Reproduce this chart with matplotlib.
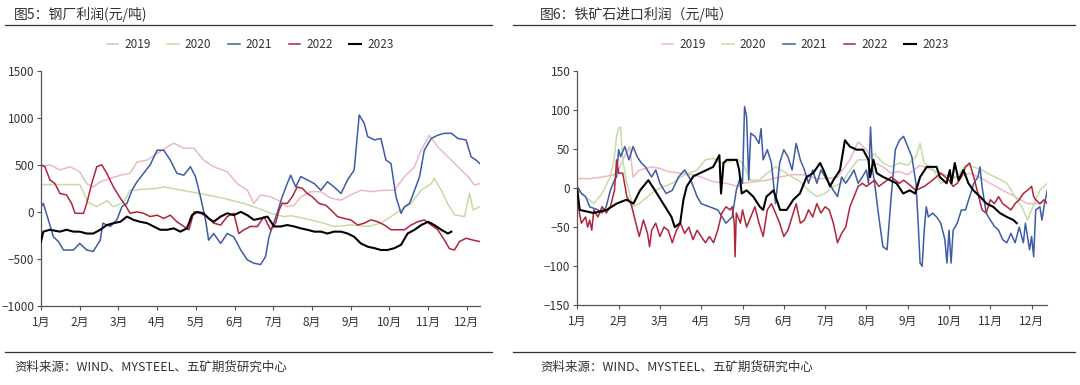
import matplotlib
matplotlib.use("Agg")
import matplotlib.pyplot as plt
from matplotlib.lines import Line2D

plt.rcParams["font.family"] = ["Noto Sans CJK SC", "DejaVu Sans"]

YEARS = ["2019", "2020", "2021", "2022", "2023"]
COLORS = {"2019": "#ebb9c2", "2020": "#c4dca6", "2021": "#3d5ca6",
          "2022": "#b2243a", "2023": "#000000"}
MONTHS = ["1月", "2月", "3月", "4月", "5月", "6月", "7月", "8月", "9月", "10月", "11月", "12月"]

# ── 图5 钢厂利润 (x in months from 1月) ──────────────────────────────────────
steel_x_2019 = [0, .23, .49, .75, 1.0, 1.18, 1.35, 1.53, 1.79, 2.05, 2.3, 2.48, 2.74, 3.0, 3.26,
                3.43, 3.69, 3.95, 4.2, 4.46, 4.81, 5.07, 5.33, 5.5, 5.67, 5.93, 6.19, 6.36, 6.54,
                6.71, 6.97, 7.23, 7.49, 7.75, 8.0, 8.26, 8.52, 8.87, 9.13, 9.39, 9.65, 9.82, 10.03,
                10.25, 10.51, 10.77, 11.03, 11.2, 11.33]
steel_y_2019 = [480, 500, 445, 480, 425, 300, 265, 320, 355, 390, 410, 530, 550, 620, 690,
                730, 675, 675, 550, 480, 425, 300, 230, 90, 180, 160, 110, 55, 70,
                160, 215, 215, 145, 125, 180, 230, 215, 230, 230, 375, 480, 655, 815,
                690, 585, 480, 375, 285, 300]

steel_x_2020 = [0, 1.0, 1.22, 1.44, 1.7, 1.87, 2.13, 2.3, 3.0, 3.17, 3.77, 4.1, 4.55, 4.9, 5.24,
                5.6, 5.93, 6.28, 6.45, 6.97, 7.3, 7.57, 8.0, 8.44, 8.78, 9.04, 9.3, 9.56, 9.82,
                10.08, 10.16, 10.34, 10.5, 10.68, 10.94, 11.07, 11.16, 11.33]
steel_y_2020 = [290, 290, 100, 55, 120, 55, 100, 230, 250, 265, 220, 195, 160, 125, 90,
                40, -15, -50, -40, -85, -120, -155, -140, -155, -120, -50, 20, 90, 230,
                300, 355, 230, 90, -30, -50, 200, 20, 55]

steel_x_2021 = [0, .06, .19, .32, .45, .58, .84, 1.0, 1.18, 1.35, 1.53, 1.6, 1.79, 1.96, 2.09,
                2.22, 2.35, 2.48, 2.65, 2.82, 3.0, 3.17, 3.34, 3.51, 3.69, 3.86, 3.99, 4.12,
                4.25, 4.33, 4.46, 4.64, 4.81, 4.98, 5.16, 5.33, 5.5, 5.67, 5.8, 5.89, 5.98,
                6.1, 6.23, 6.36, 6.45, 6.58, 6.71, 6.88, 7.06, 7.23, 7.4, 7.57, 7.75, 7.92,
                8.09, 8.22, 8.35, 8.44, 8.61, 8.78, 8.91, 9.04, 9.17, 9.3, 9.39, 9.52, 9.65,
                9.78, 9.9, 10.08, 10.25, 10.42, 10.6, 10.77, 10.98, 11.11, 11.24, 11.33]
steel_y_2021 = [55, 90, -85, -265, -315, -405, -405, -335, -405, -420, -300, -120, -155, -85, 55,
                90, 230, 320, 410, 500, 655, 655, 550, 410, 390, 480, 375, 160,
                -85, -300, -230, -335, -230, -265, -405, -510, -545, -560, -475, -265, -155,
                -15, 160, 300, 390, 265, 375, 340, 300, 230, 320, 265, 195, 340,
                445, 1030, 940, 800, 765, 780, 550, 515, 160, -15, 55, 90, 230,
                375, 655, 780, 815, 835, 835, 780, 765, 585, 550, 515]

steel_x_2022 = [0, .1, .23, .36, .49, .66, .79, .88, 1.1, 1.18, 1.31, 1.44, 1.57, 1.7, 1.87,
                2.05, 2.18, 2.3, 2.48, 2.65, 2.82, 3.0, 3.17, 3.34, 3.51, 3.69, 3.82, 3.95,
                4.12, 4.29, 4.46, 4.64, 4.81, 4.98, 5.11, 5.24, 5.41, 5.59, 5.76, 5.93, 6.06,
                6.15, 6.23, 6.36, 6.49, 6.62, 6.75, 6.88, 7.01, 7.18, 7.36, 7.49, 7.66, 7.83,
                8.0, 8.18, 8.35, 8.52, 8.7, 8.87, 9.04, 9.21, 9.39, 9.56, 9.73, 9.9, 10.08,
                10.25, 10.42, 10.55, 10.68, 10.81, 10.98, 11.16, 11.33]
steel_y_2022 = [500, 480, 340, 300, 195, 180, 90, -15, -15, 90, 300, 480, 500, 410, 265,
                145, 70, -15, 0, -15, -50, -35, -70, -35, -105, -155, -190, 0,
                -15, -50, -120, -140, -50, -15, -230, -190, -155, -155, -50, -190, -120,
                20, 90, 90, 160, 265, 250, 195, 160, 90, 70, 20, -50, -70,
                -85, -140, -120, -85, -105, -140, -190, -190, -190, -140, -105, -85, -140,
                -190, -300, -390, -405, -315, -280, -300, -315]

steel_x_2023 = [0, .06, .23, .49, .66, .84, 1.0, 1.18, 1.35, 1.53, 1.7, 1.87, 2.05, 2.22, 2.39,
                2.56, 2.74, 2.91, 3.08, 3.26, 3.43, 3.6, 3.77, 3.9, 4.03, 4.2, 4.33, 4.46,
                4.64, 4.81, 4.98, 5.16, 5.33, 5.5, 5.67, 5.85, 6.02, 6.19, 6.36, 6.54, 6.71,
                6.88, 7.06, 7.23, 7.4, 7.57, 7.75, 7.92, 8.09, 8.26, 8.44, 8.61, 8.78, 8.95,
                9.13, 9.3, 9.47, 9.65, 9.82, 10.0, 10.16, 10.34, 10.51, 10.6]
steel_y_2023 = [-315, -210, -190, -210, -190, -210, -210, -230, -230, -190, -140, -120, -105, -50, -85,
                -105, -120, -155, -190, -190, -175, -210, -175, -35, 0, -15, -70, -105,
                -50, -15, -35, 0, -35, -85, -70, -50, -155, -155, -140, -155, -175,
                -190, -210, -210, -230, -210, -210, -230, -265, -335, -370, -385, -405, -405,
                -385, -350, -230, -190, -140, -105, -140, -190, -230, -210]

# ── 图6 铁矿石进口利润 ────────────────────────────────────────────────────────
ore_x_2019 = [0, .3, .6, .9, 1.0, 1.1, 1.27, 1.35, 1.5, 1.8, 2.0, 2.2, 2.5, 2.8, 3.0, 3.3, 3.6,
              3.9, 4.0, 4.3, 4.6, 4.9, 5.2, 5.5, 5.8, 6.0, 6.3, 6.6, 6.8, 7.0, 7.2, 7.4, 7.6,
              7.8, 8.0, 8.3, 8.6, 8.9, 9.2, 9.5, 9.8, 10.0, 10.3, 10.6, 10.9, 11.2, 11.38]
ore_y_2019 = [12, 12, 14, 17, 23, 36, 53, 14, 23, 27, 25, 21, 19, 17, 14, 8, 6,
              2, 6, 8, 10, 14, 17, 17, 12, 12, 14, 36, 59, 49, 32, 27, 19,
              21, 17, 29, 23, 17, 14, 19, 12, 6, -3, -11, -20, -20, -17]

ore_x_2020 = [0, .2, .4, .6, .8, .9, .95, 1.0, 1.05, 1.1, 1.2, 1.35, 1.5, 1.7, 1.9, 2.1, 2.3,
              2.5, 2.7, 2.9, 3.1, 3.3, 3.5, 3.7, 3.9, 4.0, 4.2, 4.4, 4.6, 4.8, 5.0, 5.2, 5.4,
              5.6, 5.8, 6.0, 6.2, 6.4, 6.6, 6.8, 7.0, 7.2, 7.4, 7.6, 7.8, 8.0, 8.2, 8.3, 8.4,
              8.6, 8.8, 9.0, 9.2, 9.4, 9.6, 9.8, 10.0, 10.2, 10.4, 10.6, 10.8, 10.9, 11.0,
              11.1, 11.2, 11.3, 11.38]
ore_y_2020 = [-3, -11, -20, -7, 14, 40, 66, 76, 78, 36, 6, -24, -20, -11, -3, 2, 6,
              14, 19, 23, 36, 38, 32, 34, 36, 32, 10, 10, 19, 27, 21, 14, 8,
              -3, -11, -7, 2, 6, 23, 36, 36, 44, 32, 27, 32, 29, 40, 57, 32,
              25, 6, 10, 14, 29, 27, 23, 17, 12, 6, -11, -28, -41, -28,
              -15, -3, 2, 6]

ore_x_2021 = [0, .1, .2, .3, .5, .6, .7, .8, .9, .95, 1.0, 1.05, 1.15, 1.25, 1.35, 1.45, 1.55,
              1.65, 1.8, 1.9, 2.0, 2.15, 2.3, 2.45, 2.6, 2.75, 2.9, 3.0, 3.2, 3.4, 3.6, 3.75,
              3.85, 3.95, 4.0, 4.05, 4.1, 4.15, 4.2, 4.3, 4.4, 4.45, 4.5, 4.6, 4.7, 4.8, 4.9,
              5.0, 5.1, 5.2, 5.3, 5.4, 5.5, 5.6, 5.7, 5.8, 5.9, 6.0, 6.1, 6.2, 6.3, 6.4, 6.5,
              6.6, 6.7, 6.8, 6.9, 7.0, 7.05, 7.1, 7.15, 7.2, 7.3, 7.4, 7.5, 7.55, 7.6, 7.7,
              7.8, 7.9, 8.0, 8.1, 8.2, 8.25, 8.3, 8.35, 8.4, 8.45, 8.5, 8.6, 8.7, 8.8, 8.9,
              8.95, 9.0, 9.05, 9.1, 9.2, 9.3, 9.4, 9.5, 9.6, 9.7, 9.75, 9.8, 9.9, 10.0, 10.1,
              10.2, 10.3, 10.4, 10.5, 10.6, 10.7, 10.8, 10.85, 10.95, 11.0, 11.05, 11.1, 11.2,
              11.25, 11.3, 11.38]
ore_y_2021 = [2, -7, -11, -24, -28, -32, -24, -3, 10, 14, 49, 40, 53, 36, 53, 40, 32,
              27, 14, 23, 6, -7, -3, 14, 23, 10, -11, -20, -24, -28, -45, -37,
              -3, 14, 6, 104, 91, 10, 70, 66, 57, 76, 36, 49, 32, -20, 32,
              49, 40, 23, 57, 36, 23, 6, 23, 6, 23, 14, 6, -3, -11, 14, 6,
              14, 23, 6, 14, 23, 6, 78, 23, 6, -37, -75, -79, -45, -11, 49,
              61, 66, 53, 40, 6, -41, -96, -100, -54, -24, -37, -32, -37, -45, -66,
              -96, -54, -96, -54, -45, -28, -28, -11, 6, 14, 27, 2, -32, -41, -49,
              -54, -66, -70, -58, -70, -50, -70, -45, -79, -62, -88, -28, -24,
              -41, -24, -3]

ore_x_2022 = [0, .05, .1, .2, .25, .3, .35, .4, .5, .6, .7, .8, .9, .95, 1.0, 1.1, 1.2, 1.3,
              1.4, 1.5, 1.6, 1.7, 1.75, 1.8, 1.9, 2.0, 2.1, 2.2, 2.3, 2.4, 2.5, 2.6, 2.7,
              2.8, 2.9, 3.0, 3.1, 3.2, 3.3, 3.4, 3.5, 3.6, 3.7, 3.75, 3.8, 3.82, 3.85, 3.95,
              4.0, 4.1, 4.2, 4.3, 4.4, 4.5, 4.6, 4.7, 4.8, 4.9, 5.0, 5.1, 5.2, 5.3, 5.4, 5.5,
              5.6, 5.7, 5.8, 5.9, 6.0, 6.1, 6.2, 6.3, 6.4, 6.5, 6.6, 6.7, 6.8, 6.9, 7.0, 7.1,
              7.2, 7.3, 7.4, 7.5, 7.6, 7.7, 7.8, 7.9, 8.0, 8.2, 8.4, 8.6, 8.8, 9.0, 9.1, 9.2,
              9.3, 9.4, 9.5, 9.6, 9.7, 9.8, 9.9, 10.0, 10.1, 10.2, 10.3, 10.4, 10.5, 10.6,
              10.7, 10.8, 10.9, 11.0, 11.05, 11.1, 11.2, 11.3, 11.38]
ore_y_2022 = [-3, -32, -45, -37, -50, -41, -54, -28, -37, -24, -32, -24, -3, 36, 19, 19, -11, -20,
              -41, -62, -41, -58, -75, -54, -45, -62, -50, -54, -70, -54, -45, -58, -50,
              -66, -54, -62, -70, -62, -70, -54, -32, -24, -28, -24, -45, -88, -32, -45,
              -28, -50, -37, -24, -45, -62, -28, -20, -32, -45, -62, -54, -37, -20, -45, -41,
              -28, -37, -20, -32, -24, -28, -45, -70, -58, -50, -24, -11, 2, 6, 2, 6,
              10, 2, 6, 10, 14, 10, 6, 10, 6, -3, 2, 10, 19, 10, 2, 6,
              14, 27, 32, 14, -7, -28, -32, -15, -20, -11, -20, -24, -28, -20,
              -15, -7, -3, 2, -11, -15, -20, -15, -20]

ore_x_2023 = [0, .06, .39, .71, .95, 1.19, 1.36, 1.52, 1.72, 1.88, 2.08, 2.28, 2.36, 2.49, 2.57,
              2.65, 2.81, 2.97, 3.13, 3.29, 3.44, 3.48, 3.54, 3.62, 3.86, 3.92, 3.98, 4.1,
              4.26, 4.42, 4.5, 4.58, 4.75, 4.91, 5.07, 5.23, 5.39, 5.55, 5.71, 5.88, 5.96,
              6.12, 6.2, 6.36, 6.48, 6.6, 6.76, 6.92, 7.05, 7.09, 7.17, 7.25, 7.41, 7.57,
              7.73, 7.89, 8.05, 8.18, 8.3, 8.46, 8.7, 8.78, 8.94, 9.02, 9.06, 9.14, 9.23,
              9.35, 9.47, 9.59, 9.75, 9.91, 10.07, 10.23, 10.4, 10.56, 10.64]
ore_y_2023 = [-3, -28, -32, -28, -20, -15, -20, -3, 10, -3, -20, -37, -50, -45, -15,
              2, 15, 19, 23, 27, 42, -7, 32, 36, 36, 23, -7, -3,
              -11, -24, -28, -11, -3, -28, -28, -15, -7, 14, 19, 32, 23,
              2, 10, 23, 61, 53, 49, 49, 36, 14, 36, 19, 14, 10,
              6, -7, -3, -7, 14, 27, 27, 14, 6, 23, 6, 32, 10,
              23, 6, -3, -11, -20, -24, -32, -37, -41, -45]

steel = {"2019": (steel_x_2019, steel_y_2019), "2020": (steel_x_2020, steel_y_2020),
         "2021": (steel_x_2021, steel_y_2021), "2022": (steel_x_2022, steel_y_2022),
         "2023": (steel_x_2023, steel_y_2023)}
ore = {"2019": (ore_x_2019, ore_y_2019), "2020": (ore_x_2020, ore_y_2020),
       "2021": (ore_x_2021, ore_y_2021), "2022": (ore_x_2022, ore_y_2022),
       "2023": (ore_x_2023, ore_y_2023)}

W, H = 1080, 385
fig = plt.figure(figsize=(W / 100, H / 100), dpi=100)


def fx(px):
    return px / W


def fy(py):
    return 1 - py / H


def panel(rect, series, ylim, yticks, xmax, legend_cx):
    ax = fig.add_axes(rect)
    for yr in YEARS:
        xs, ys = series[yr]
        lw = 1.5 if yr == "2023" else 1.1
        ax.plot(xs, ys, color=COLORS[yr], lw=lw, label=yr, zorder=3 if yr == "2023" else 2)
    ax.set_xlim(0, xmax)
    ax.set_ylim(*ylim)
    ax.set_yticks(yticks)
    ax.set_xticks(range(12))
    ax.set_xticklabels(MONTHS)
    for s in ("top", "right"):
        ax.spines[s].set_visible(False)
    for s in ("left", "bottom"):
        ax.spines[s].set_color("#555555")
        ax.spines[s].set_linewidth(0.9)
    ax.tick_params(axis="both", direction="out", length=3, width=0.8, color="#555555",
                   labelsize=8.5, labelcolor="#333333", pad=2)
    ax.tick_params(axis="x", pad=4)
    ax.legend(loc="center", bbox_to_anchor=(fx(legend_cx), fy(45)),
              bbox_transform=fig.transFigure, ncol=5, frameon=False, fontsize=8.5,
              handlelength=1.0, handletextpad=0.5, columnspacing=1.4,
              labelcolor="#333333")
    return ax


panel([fx(41), fy(306), fx(480 - 41), (306 - 70.7) / H], steel,
      (-1000, 1500), range(-1000, 1501, 500), 11.34, 250)
panel([fx(577.3), fy(305.3), fx(1047.3 - 577.3), (305.3 - 70.7) / H], ore,
      (-150, 150), range(-150, 151, 50), 11.38, 805)

fig.text(fx(14), fy(14), "图5：钢厂利润(元/吨)", fontsize=10,
         color="#333333", va="center", ha="left")
fig.text(fx(540), fy(14), "图6：铁矿石进口利润（元/吨）", fontsize=10,
         color="#333333", va="center", ha="left")
for x0, x1 in ((5, 492), (513, 1075)):
    fig.add_artist(Line2D([fx(x0), fx(x1)], [fy(25), fy(25)], transform=fig.transFigure,
                          color="#333333", lw=0.9))
    fig.add_artist(Line2D([fx(x0), fx(x1)], [fy(352), fy(352)], transform=fig.transFigure,
                          color="#333333", lw=0.9))
src = "资料来源：WIND、MYSTEEL、五矿期货研究中心"
fig.text(fx(14), fy(367), src, fontsize=9, color="#333333", va="center", ha="left")
fig.text(fx(540), fy(367), src, fontsize=9, color="#333333", va="center", ha="left")

fig.savefig("out.png", dpi=100)
